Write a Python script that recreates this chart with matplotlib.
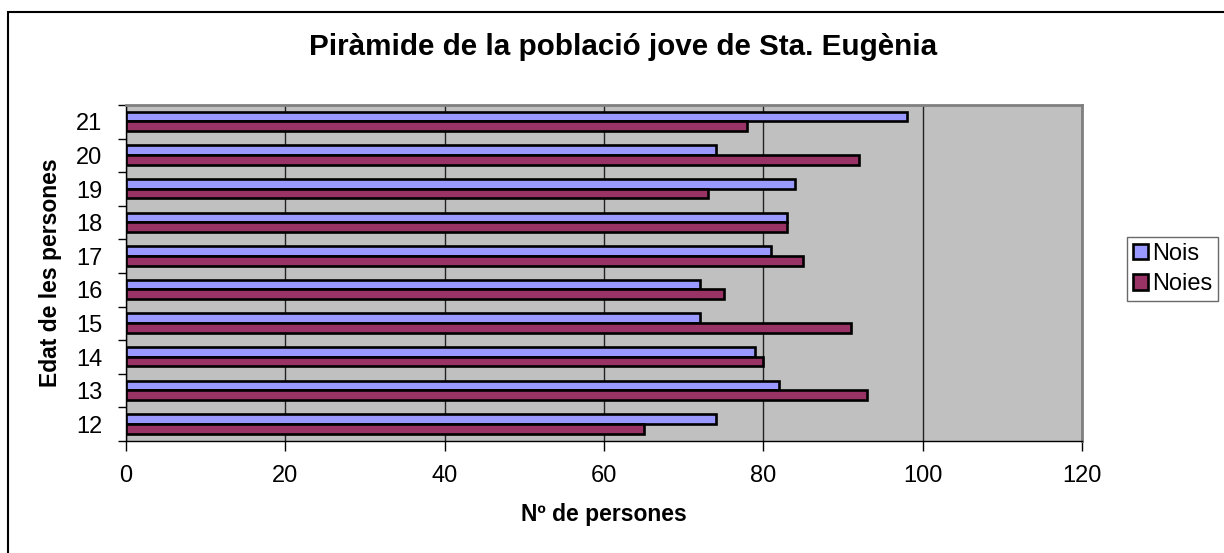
import matplotlib
matplotlib.use('Agg')
import matplotlib.pyplot as plt
import numpy as np
from matplotlib.patches import Rectangle

plt.rcParams['font.family'] = ['Liberation Sans', 'DejaVu Sans']

ages = ['12', '13', '14', '15', '16', '17', '18', '19', '20', '21']
nois = [74, 82, 79, 72, 72, 81, 83, 84, 74, 98]
noies = [65, 93, 80, 91, 75, 85, 83, 73, 92, 78]

y = np.arange(len(ages))
h = 0.29

fig = plt.figure(figsize=(12.24, 5.53), dpi=100)
ax = fig.add_axes([126 / 1224, 1 - 441 / 553, (1082 - 126) / 1224, (441 - 105) / 553])

# outer chart border (only top/left visible in the original)
fig.patches.append(Rectangle((8 / 1224, -0.05), 1.2, 1 - 12 / 553 + 0.05,
                             transform=fig.transFigure, fill=False,
                             edgecolor='black', linewidth=1.5))

ax.set_facecolor('#C0C0C0')
ax.barh(y + h / 2 + 0.01, nois, h, color='#9999FF', edgecolor='black',
        linewidth=1.9, label='Nois', zorder=3)
ax.barh(y - h / 2 + 0.01, noies, h, color='#993366', edgecolor='black',
        linewidth=1.9, label='Noies', zorder=3)

ax.set_xlim(0, 120)
ax.set_ylim(-0.5, len(ages) - 0.5)
ax.set_xticks(np.arange(0, 121, 20))
ax.tick_params(axis='x', labelsize=17, length=7, width=1, pad=10)

# category ticks between bars, labels centered
ax.set_yticks(np.arange(-0.5, len(ages), 1.0))
ax.set_yticklabels([])
ax.tick_params(axis='y', length=6, width=1)
ax.set_yticks(y, minor=True)
ax.set_yticklabels(ages, minor=True)
ax.tick_params(axis='y', which='minor', length=0, labelsize=17, pad=17)

ax.grid(axis='x', color='#222222', linewidth=1, zorder=1)
ax.set_axisbelow(True)
for side in ['top', 'right']:
    ax.spines[side].set_color('#808080')
    ax.spines[side].set_linewidth(2)
for side in ['left', 'bottom']:
    ax.spines[side].set_color('black')
    ax.spines[side].set_linewidth(1)

fig.text(623 / 1224, 1 - 47 / 553, 'Piràmide de la població jove de Sta. Eugènia',
         ha='center', va='center', fontsize=21.3, fontweight='bold')
fig.text(604 / 1224, 1 - 515 / 553, 'Nº de persones', ha='center', va='center',
         fontsize=16.5, fontweight='bold')
fig.text(51 / 1224, 1 - 273 / 553, 'Edat de les persones', ha='center', va='center',
         rotation=90, fontsize=16.5, fontweight='bold')

leg = fig.legend(loc='upper left', bbox_to_anchor=(1127 / 1224, 1 - 237 / 553),
                 frameon=True, fancybox=False, fontsize=17, handlelength=0.65,
                 handleheight=0.65, handletextpad=0.15, borderpad=0.25,
                 labelspacing=0.35, borderaxespad=0)
leg.get_frame().set_edgecolor('#444444')
leg.get_frame().set_linewidth(1)

fig.savefig('out.png', dpi=100)
